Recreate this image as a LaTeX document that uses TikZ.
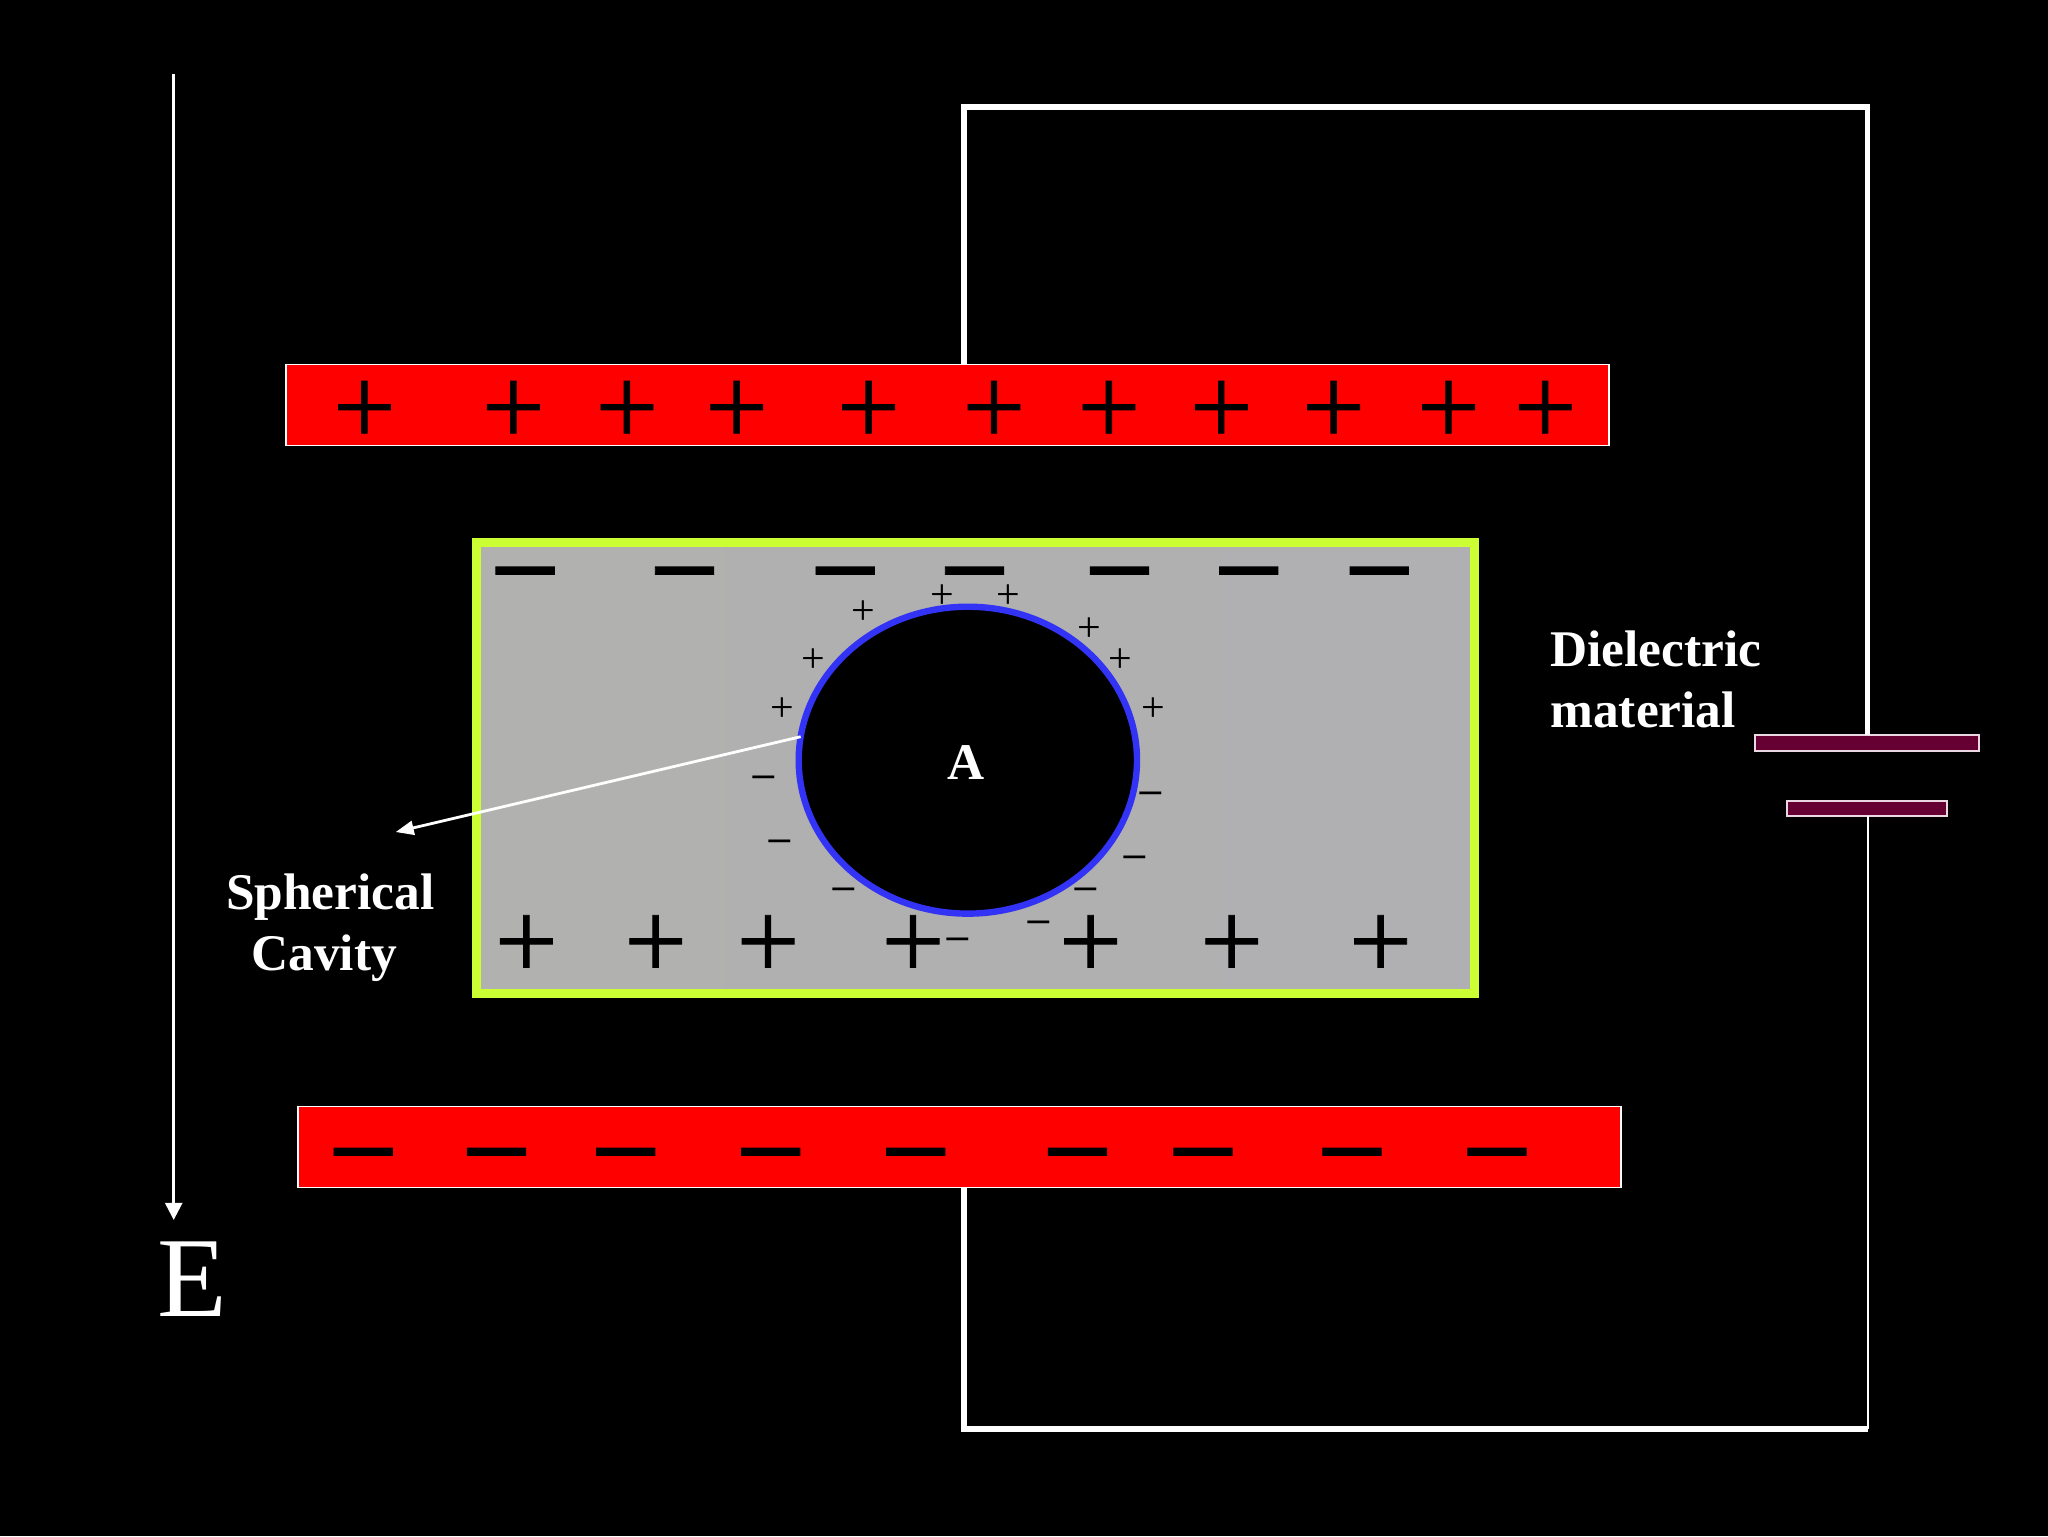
\documentclass[tikz,border=0pt]{standalone}
\usepackage{fontspec}
\setmainfont{Liberation Serif}
\newfontfamily\signfont[FakeBold=0.7]{Liberation Serif}
\usetikzlibrary{arrows.meta,shapes.geometric}
\newcommand{\pxu}{0.65306pt}
\newcommand{\mns}{\scalebox{1.12}[1.3]{−}}
\definecolor{platered}{RGB}{255,0,0}
\definecolor{dielgray}{RGB}{177,177,175}
\definecolor{dielgrayb}{RGB}{176,175,178}
\definecolor{dielrim}{RGB}{204,255,51}
\definecolor{cavblue}{RGB}{51,51,245}
\definecolor{batfill}{RGB}{102,0,51}
\definecolor{batedge}{RGB}{235,215,225}
\tikzset{
  plate/.style={draw=white,line width=0.75pt,fill=platered,inner sep=0pt,outer sep=0pt,minimum width=1013*\pxu,minimum height=62*\pxu},
  batplate/.style={draw=batedge,line width=1pt,fill=batfill,inner sep=0pt,outer sep=0pt},
  wire/.style={draw=white,line width=2.7pt},
  thinwire/.style={draw=white,line width=1.1pt},
  sign/.style={inner sep=0pt,outer sep=0pt,text=black},
  bigsign/.style={sign,font=\signfont\fontsize{56}{56}\selectfont},
  smallsign/.style={sign,font=\fontsize{21}{21}\selectfont},
  lab/.style={inner sep=0pt,outer sep=0pt,text=white,font=\fontsize{25.7}{30.5}\selectfont\bfseries},
}
\begin{document}
\begin{tikzpicture}[x=\pxu,y=-\pxu]
\useasboundingbox (0,0) rectangle (1568,1176);
\fill[black] (0,0) rectangle (1568,1176);
% plates
\node[plate] (topplate) at (725.5,310) {};
\node[plate] (botplate) at (734.5,878) {};
% dielectric
\node[draw=dielrim,line width=4.3pt,left color=dielgray,right color=dielgrayb,inner sep=0pt,outer sep=0pt,minimum width=764*\pxu,minimum height=345*\pxu] (diel) at (747,588) {};
% cavity
\node[ellipse,draw=cavblue,line width=3.2pt,fill=black,inner sep=0pt,outer sep=0pt,minimum width=259*\pxu,minimum height=235*\pxu] (cavity) at (741,582) {};
\node[lab,anchor=base] (alabel) at (740,597) {A};
% battery
\node[batplate,minimum width=172*\pxu,minimum height=12*\pxu] (batpos) at (1429.5,569) {};
\node[batplate,minimum width=123*\pxu,minimum height=12*\pxu] (batneg) at (1429.5,619) {};
% circuit
\coordinate (tl) at (738,82);
\coordinate (tr) at (1430,82);
\coordinate (bl) at (738,1094);
\coordinate (br) at (1430,1094);
\draw[wire] (tl |- topplate.north) -- (tl) -- (tr) -- (tr |- batpos.north);
\draw[wire] (bl |- botplate.south) -- (bl) -- (br);
\draw[thinwire] (br) -- (br |- batneg.south);
% field arrow
\coordinate (etop) at (133,57);
\coordinate (etip) at (133,934);
\draw[white,line width=1.25pt,-{Triangle[length=8.5pt,width=8.5pt]}] (etop) -- (etip);
\node[inner sep=0pt,outer sep=0pt,text=white,font=\fontsize{57}{57}\selectfont,anchor=base] (elabel) at (147,1007.6) {E};
% cavity pointer
\coordinate (ptr) at (303,637);
\draw[white,line width=1.4pt,-{Triangle[length=9pt,width=7pt]}] (cavity.172) -- (ptr);
% labels
\node[lab,anchor=base west,align=left] (dlabel) at (1187,557) {Dielectric\\material};
\node[lab,anchor=base,align=center] (slabel) at (253,743) {Spherical\\Cavity\hspace*{0.25em}};
% plate signs
\foreach \x [count=\i] in {279,393,480,564,665,761,849,935,1021,1109,1183}
  \node[bigsign] (tp\i) at (\x,316) {+};
\foreach \x [count=\i] in {278,380,479,590,701,825,921,1035,1146}
  \node[bigsign] (bm\i) at (\x,899) {\mns};
\foreach \x [count=\i] in {402,524,647,746,857,956,1056}
  \node[bigsign] (dm\i) at (\x,454) {\mns};
\foreach \x [count=\i] in {403,502,588,699,835,943,1057}
  \node[bigsign] (dp\i) at (\x,725) {+};
% cavity surface signs
\foreach \x/\y [count=\i] in {660/467,622/504,598/541,721/455,771/455,833/480,857/504,882/541}
  \node[smallsign] (sp\i) at (\x+0.7,\y+2) {+};
\foreach \x/\y [count=\i] in {585/594,597/643,646/680,733/718,795/705,831/680,869/655,881/606}
  \node[smallsign] (sm\i) at (\x,\y+7.5) {\mns};
\end{tikzpicture}
\end{document}
